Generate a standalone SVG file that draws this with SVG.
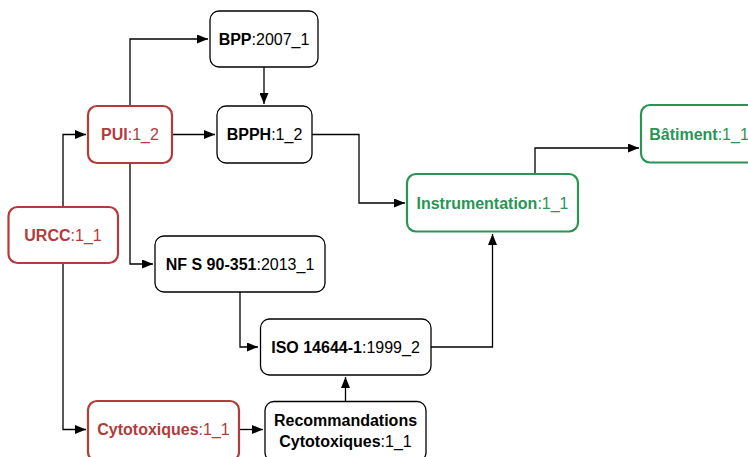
<svg xmlns="http://www.w3.org/2000/svg" width="748" height="457" viewBox="0 0 748 457">
<style>
.box{fill:#fff;stroke:#000;stroke-width:1.3}
.red{fill:#fff;stroke:#b23b3b;stroke-width:2.2}
.green{fill:#fff;stroke:#2a9455;stroke-width:2.2}
text{font-family:"Liberation Sans",Arial,Helvetica,sans-serif;font-size:16px;text-anchor:middle}
.b{font-weight:bold}
.tr{fill:#b23b3b}
.tg{fill:#2a9455}
.e{fill:none;stroke:#000;stroke-width:1.3}
</style>
<defs>
<marker id="ah" markerWidth="11" markerHeight="9" refX="11" refY="4.5" orient="auto" markerUnits="userSpaceOnUse">
<path d="M0,0 L11,4.5 L0,9 Z" fill="#000"/>
</marker>
</defs>
<rect width="748" height="457" fill="#fff"/>
<g id="edges">
<path class="e" d="M130,106 V39 H208" marker-end="url(#ah)"/>
<path class="e" d="M264,67 V104" marker-end="url(#ah)"/>
<path class="e" d="M172,134.5 H215" marker-end="url(#ah)"/>
<path class="e" d="M63,207 V134.5 H86" marker-end="url(#ah)"/>
<path class="e" d="M312,134.5 H359 V203 H405" marker-end="url(#ah)"/>
<path class="e" d="M535,174 V148 H639" marker-end="url(#ah)"/>
<path class="e" d="M130,163 V264 H153" marker-end="url(#ah)"/>
<path class="e" d="M240,292 V347 H258" marker-end="url(#ah)"/>
<path class="e" d="M431,347 H492.5 V234" marker-end="url(#ah)"/>
<path class="e" d="M63,263 V429.5 H86" marker-end="url(#ah)"/>
<path class="e" d="M239,429.5 H263" marker-end="url(#ah)"/>
<path class="e" d="M345.5,401.5 V377" marker-end="url(#ah)"/>
</g>
<g id="bpp">
<rect class="box" x="210" y="11" width="108" height="56" rx="9"/>
<text x="264" y="45"><tspan class="b">BPP</tspan>:2007_1</text>
</g>
<g id="pui">
<rect class="red" x="88" y="106" width="84" height="57" rx="9"/>
<text x="130" y="140" class="tr"><tspan class="b">PUI</tspan>:1_2</text>
</g>
<g id="bpph">
<rect class="box" x="217" y="106" width="95" height="57" rx="9"/>
<text x="264.5" y="140"><tspan class="b">BPPH</tspan>:1_2</text>
</g>
<g id="instrumentation">
<rect class="green" x="407" y="174" width="171" height="57.5" rx="9"/>
<text x="492.5" y="208.5" class="tg"><tspan class="b">Instrumentation</tspan>:1_1</text>
</g>
<g id="batiment">
<rect class="green" x="641" y="105" width="116" height="57.5" rx="9"/>
<text x="699" y="139.5" class="tg"><tspan class="b">Bâtiment</tspan>:1_1</text>
</g>
<g id="urcc">
<rect class="red" x="8.5" y="207" width="109.5" height="56" rx="9"/>
<text x="63" y="241" class="tr"><tspan class="b">URCC</tspan>:1_1</text>
</g>
<g id="nfs">
<rect class="box" x="155" y="236" width="170" height="56" rx="9"/>
<text x="240" y="270"><tspan class="b">NF S 90-351</tspan>:2013_1</text>
</g>
<g id="iso">
<rect class="box" x="260.5" y="319" width="170.5" height="56" rx="9"/>
<text x="345.5" y="353"><tspan class="b">ISO 14644-1</tspan>:1999_2</text>
</g>
<g id="cytotoxiques">
<rect class="red" x="88" y="401" width="151" height="60" rx="9"/>
<text x="163.5" y="435" class="tr"><tspan class="b">Cytotoxiques</tspan>:1_1</text>
</g>
<g id="recommandations">
<rect class="box" x="265" y="401.5" width="161" height="60" rx="9"/>
<text x="345.5" y="426"><tspan class="b">Recommandations</tspan></text>
<text x="345.5" y="447"><tspan class="b">Cytotoxiques</tspan>:1_1</text>
</g>
</svg>
